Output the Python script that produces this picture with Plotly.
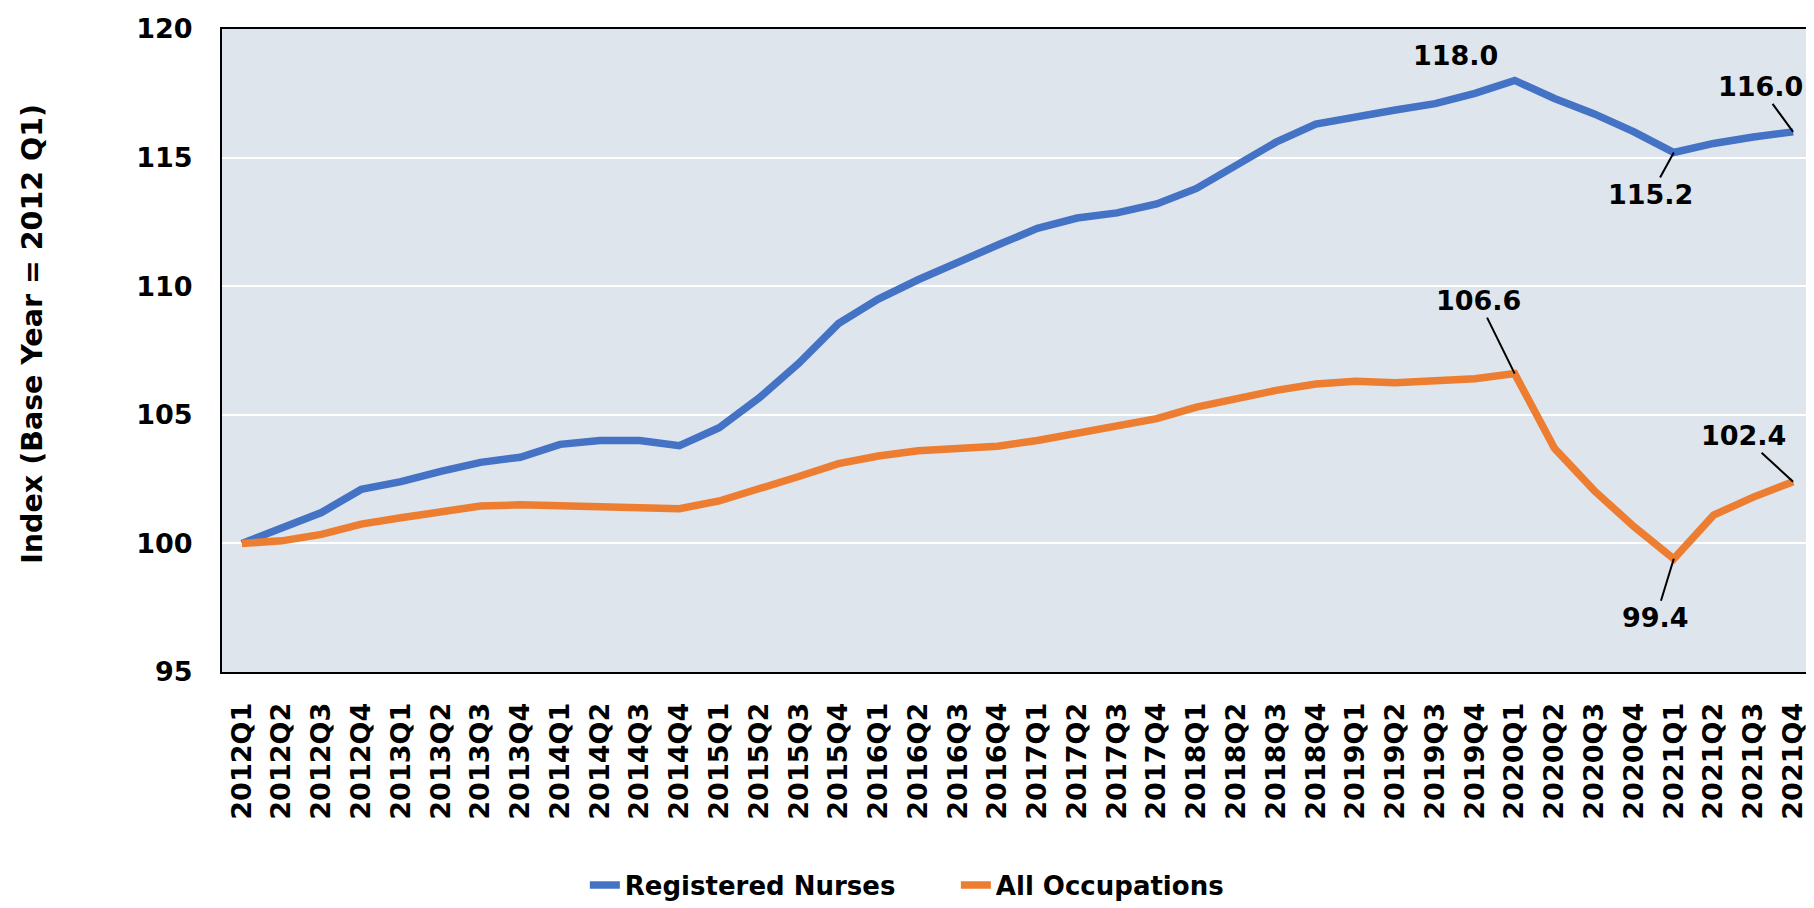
import plotly.graph_objects as go

quarters = [f"{y}Q{q}" for y in range(2012, 2022) for q in range(1, 5)]

nurses = [
    100.0, 100.6, 101.2, 102.1, 102.4, 102.8, 103.15, 103.35,
    103.85, 104.0, 104.0, 103.8, 104.5, 105.65, 107.0, 108.55,
    109.5, 110.25, 110.95, 111.6, 112.25, 112.65, 112.85, 113.2,
    113.8, 114.7, 115.6, 116.3, 116.6, 116.85, 117.1, 117.5,
    118.0, 117.3, 116.7, 116.0, 115.2, 115.55, 115.8, 116.0,
]

all_occupations = [
    100.0, 100.1, 100.35, 100.75, 101.0, 101.25, 101.45, 101.5,
    101.47, 101.45, 101.35, 101.35, 101.65, 102.1, 102.6, 103.1,
    103.4, 103.6, 103.68, 103.78, 104.0, 104.3, 104.55, 104.85,
    105.3, 105.65, 105.95, 106.2, 106.3, 106.25, 106.3, 106.4,
    106.6, 103.7, 102.05, 100.65, 99.4, 101.1, 101.8, 102.4,
]

FONT = "DejaVu Sans"
BLUE = "#4472C4"
ORANGE = "#ED7D31"

fig = go.Figure()

fig.add_trace(go.Scatter(
    x=quarters, y=nurses, mode="lines", name="Registered Nurses",
    line=dict(color=BLUE, width=7.5),
))
fig.add_trace(go.Scatter(
    x=quarters, y=all_occupations, mode="lines", name="All Occupations",
    line=dict(color=ORANGE, width=7.5),
))

# labels: (series, quarter, text offset x, text offset y, leader line)
callouts = [
    (nurses, "2020Q1", -59, -25, False),
    (nurses, "2021Q1", -23, 42, True),
    (nurses, "2021Q4", -33, -45, True),
    (all_occupations, "2020Q1", -36, -73, True),
    (all_occupations, "2021Q1", -18, 59, True),
    (all_occupations, "2021Q4", -50, -46, True),
]
for series, q, ax, ay, arrow in callouts:
    val = series[quarters.index(q)]
    fig.add_annotation(
        x=q, y=val, text=f"{val:.1f}",
        showarrow=True, arrowhead=0, arrowwidth=2,
        arrowcolor="black" if arrow else "rgba(0,0,0,0)",
        ax=ax, ay=ay, standoff=0,
        font=dict(family=FONT, size=27, color="black", weight="bold"),
    )

# y-axis title placed by hand
fig.add_annotation(
    xref="paper", yref="paper", x=-0.1188, y=0.526,
    xanchor="center", yanchor="middle",
    text="Index (Base Year = 2012 Q1)", textangle=-90, showarrow=False,
    font=dict(family=FONT, size=28.5, color="black", weight="bold"),
)

fig.update_layout(
    width=1814, height=908,
    margin=dict(l=214, r=9, t=21, b=244, autoexpand=False),
    paper_bgcolor="white",
    plot_bgcolor="#DEE5EC",
    font=dict(family=FONT, color="black", weight="bold"),
    showlegend=True,
    legend=dict(
        orientation="h", xref="container", yref="container",
        x=0.318, xanchor="left", y=0.034, yanchor="middle",
        font=dict(family=FONT, size=26, weight="bold"),
        entrywidth=326, entrywidthmode="pixels",
    ),
)

fig.update_xaxes(
    type="category", range=[-0.5, len(quarters) - 0.5],
    tickangle=-90, automargin=False,
    tickfont=dict(family=FONT, size=27, weight="bold"),
    ticks="outside", ticklen=18, tickcolor="rgba(0,0,0,0)",
    showgrid=False, zeroline=False,
    showline=True, linecolor="black", linewidth=2, mirror=True,
)
fig.update_yaxes(
    range=[95, 120], dtick=5, automargin=False,
    tickfont=dict(family=FONT, size=27, weight="bold"),
    ticks="outside", ticklen=22, tickcolor="rgba(0,0,0,0)",
    showgrid=True, gridcolor="white", gridwidth=2,
    zeroline=False,
    showline=True, linecolor="black", linewidth=2, mirror=True,
)

fig.write_html("out.html")
